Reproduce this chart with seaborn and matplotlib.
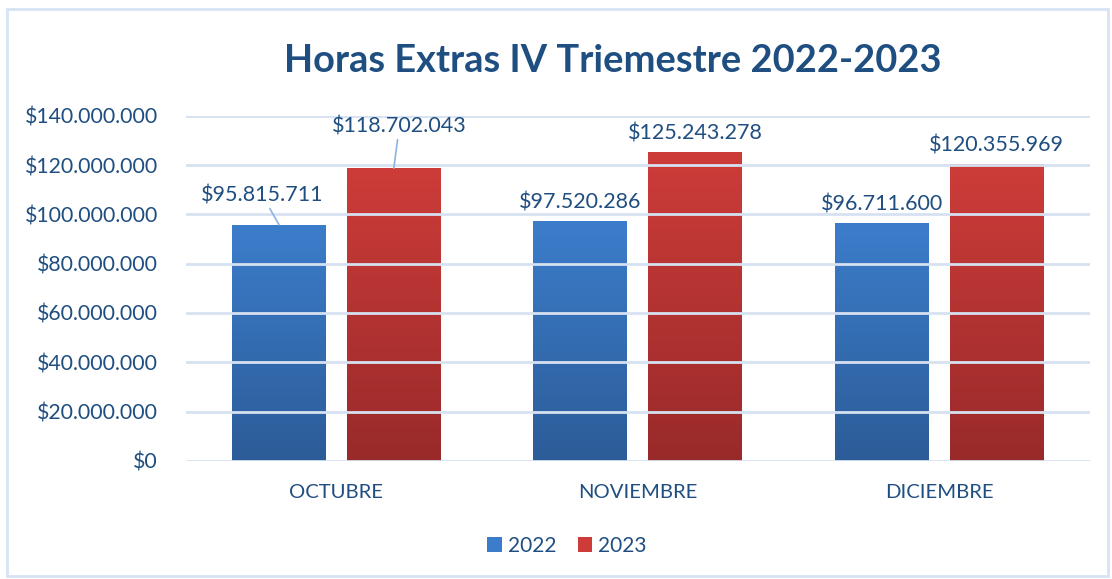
import numpy as np
import pandas as pd
import matplotlib
matplotlib.use('Agg')
import matplotlib.pyplot as plt
import seaborn as sns
from matplotlib.colors import LinearSegmentedColormap
from matplotlib.patches import Rectangle, Patch
from matplotlib.ticker import FuncFormatter

# Data
meses = ['OCTUBRE', 'NOVIEMBRE', 'DICIEMBRE']
valores_2022 = [95815711, 97520286, 96711600]
valores_2023 = [118702043, 125243278, 120355969]
anios = ['2022', '2023']

df = pd.DataFrame({
    'mes': meses * 2,
    'anio': [anios[0]] * 3 + [anios[1]] * 3,
    'valor': valores_2022 + valores_2023,
})

text_color = '#1F4E80'
grid_color = '#D6E1F1'
colores = {'2022': ('#3C7DCB', '#2C5C98'), '2023': ('#CD3C39', '#992A2A')}

sns.set_theme(style='white')
plt.rcParams['font.family'] = ['Lato', 'DejaVu Sans']

fig = plt.figure(figsize=(11.12, 5.79), dpi=100)
ax = fig.add_axes([0.167, 0.204, 0.813, 0.596])

sns.barplot(data=df, x='mes', y='valor', hue='anio', palette=[colores['2022'][0], colores['2023'][0]],
            width=0.762, gap=0.184, errorbar=None, legend=False, ax=ax)

# gradient fill on each bar (light top -> dark bottom)
grad = np.linspace(1, 0, 256).reshape(-1, 1)
for i, patch in enumerate(ax.patches):
    anio = anios[i // 3]
    cmap = LinearSegmentedColormap.from_list('g', [colores[anio][1], colores[anio][0]])
    x, y = patch.get_x(), patch.get_y()
    w, h = patch.get_width(), patch.get_height()
    im = ax.imshow(grad, extent=[x, x + w, y, y + h], origin='upper',
                   aspect='auto', cmap=cmap, vmin=0, vmax=1, zorder=1.5)
    im.set_clip_path(patch)

ax.set_xlim(-0.5, 2.5)
ax.set_ylim(0, 140000000)
ax.set_yticks(np.arange(0, 140000001, 20000000))
ax.yaxis.set_major_formatter(FuncFormatter(lambda v, p: '$' + f'{int(v):,}'.replace(',', '.')))

ax.grid(axis='y', color=grid_color, linewidth=2)
ax.set_axisbelow(False)
sns.despine(ax=ax, left=True, bottom=True)
ax.set_xlabel('')
ax.set_ylabel('')
ax.tick_params(axis='y', colors=text_color, labelsize=15.3, length=0, pad=20)
ax.tick_params(axis='x', colors=text_color, labelsize=14.6, length=0, pad=17)

# data labels
def fmt(v):
    return '$' + f'{v:,}'.replace(',', '.')

offsets = {
    (0, 0): (-12, 14), (1, 0): (4, 23),
}
for i, patch in enumerate(ax.patches):
    s = i // 3
    m = i % 3
    v = (valores_2022 if s == 0 else valores_2023)[m]
    cx = patch.get_x() + patch.get_width() / 2
    if m == 0:
        dx, dy = offsets[(s, 0)]
        ax.annotate(fmt(v), xy=(cx, v), xytext=(dx, dy), textcoords='offset points',
                    ha='center', va='bottom', fontsize=15.5, color=text_color,
                    arrowprops=dict(arrowstyle='-', color='#8DB3E2', lw=1.2, shrinkA=0, shrinkB=0))
    else:
        ax.annotate(fmt(v), xy=(cx, v), xytext=(0, 6), textcoords='offset points',
                    ha='center', va='bottom', fontsize=15.5, color=text_color)

fig.text(0.551, 0.895, 'Horas Extras IV Triemestre 2022-2023', ha='center', va='center',
         fontsize=27.4, fontweight='bold', color=text_color)

handles = [Patch(facecolor=colores[a][0], edgecolor='none', label=a) for a in anios]
fig.legend(handles=handles, loc='center', bbox_to_anchor=(0.51, 0.057), ncol=2, frameon=False,
           fontsize=15, labelcolor=text_color, handlelength=0.7, handleheight=0.7,
           handletextpad=0.3, columnspacing=1.0)

fig.add_artist(Rectangle((0.006, 0.006), 0.99, 0.978, transform=fig.transFigure,
                         fill=False, edgecolor='#D6E4F5', linewidth=2))

fig.savefig('out.png', dpi=100)
